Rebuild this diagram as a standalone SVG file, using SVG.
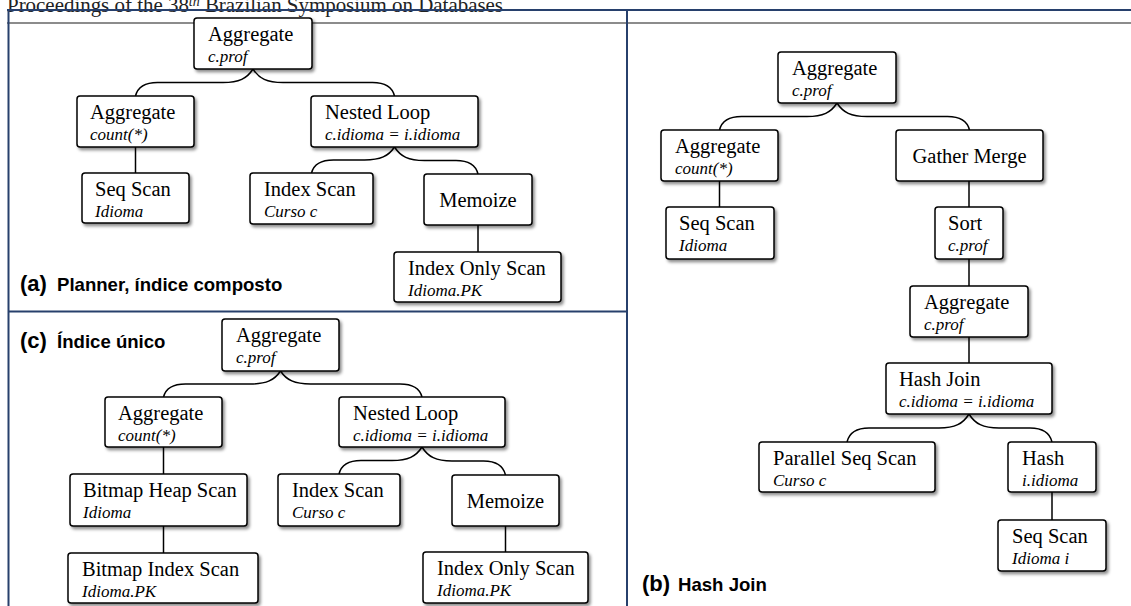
<svg xmlns="http://www.w3.org/2000/svg" width="1131" height="606" viewBox="0 0 1131 606">
<style>
.box{fill:#fff;stroke:#000;stroke-width:1.5;filter:url(#sh)}
.t{font-family:"Liberation Serif","Times New Roman",serif;font-size:20.5px;fill:#000}
.s{font-family:"Liberation Serif","Times New Roman",serif;font-size:17px;font-style:italic;fill:#000}
.c{text-anchor:middle}
.edge{fill:none;stroke:#000;stroke-width:1.5}
.frame{stroke:#27406c;stroke-width:2;fill:none}
.lab{font-family:"Liberation Sans",Arial,sans-serif;font-weight:bold;fill:#000}
.hdr{font-family:"Liberation Serif","Times New Roman",serif;font-size:21px;fill:#222}
</style>
<defs>
<filter id="sh" x="-10%" y="-10%" width="130%" height="140%">
<feDropShadow dx="2" dy="2.5" stdDeviation="1.6" flood-color="#000" flood-opacity="0.45"/>
</filter>
</defs>
<rect width="1131" height="606" fill="#fff"/>
<g id="header">
<text class="hdr" x="7" y="12" textLength="496" lengthAdjust="spacingAndGlyphs">Proceedings of the 38<tspan font-size="14" font-style="italic" dy="-6">th</tspan><tspan dy="6"> Brazilian Symposium on Databases</tspan></text>
</g>
<g id="frames">
<line x1="7" y1="23" x2="1131" y2="23" stroke="#666" stroke-width="1.5"/>
<line class="frame" x1="7" y1="10" x2="1131" y2="10"/>
<line class="frame" x1="8.5" y1="10" x2="8.5" y2="606"/>
<line class="frame" x1="627" y1="10" x2="627" y2="606"/>
<line class="frame" x1="8.5" y1="311.5" x2="627" y2="311.5"/>
</g>
<g id="connectors">
<path class="edge" d="M253,69 C247,78.5 239,82.5 223,82.5 L157.5,82.5 C143.5,82.5 137.5,87.9 135.5,96"/>
<path class="edge" d="M253,69 C259,78.5 267,82.5 283,82.5 L372.5,82.5 C386.5,82.5 392.5,87.9 394.5,96"/>
<path class="edge" d="M394.5,147 C388.5,156.1 380.5,160 364.5,160 L333.5,160 C319.5,160 313.5,165.2 311.5,173"/>
<path class="edge" d="M394.5,147 C400.5,156.5 408.5,160.5 424.5,160.5 L456,160.5 C470,160.5 476,165.9 478,174"/>
<line class="edge" x1="135.5" y1="147" x2="135.5" y2="173"/>
<line class="edge" x1="478" y1="225" x2="478" y2="252"/>
<path class="edge" d="M280.5,371 C274.5,380.1 266.5,384 250.5,384 L185.5,384 C171.5,384 165.5,389.2 163.5,397"/>
<path class="edge" d="M280.5,371 C286.5,380.1 294.5,384 310.5,384 L400,384 C414,384 420,389.2 422,397"/>
<path class="edge" d="M422,447 C416,456.5 408,460.5 392,460.5 L361,460.5 C347,460.5 341,465.9 339,474"/>
<path class="edge" d="M422,447 C428,456.8 436,461 452,461 L483.5,461 C497.5,461 503.5,466.6 505.5,475"/>
<line class="edge" x1="163.5" y1="447" x2="163.5" y2="474"/>
<line class="edge" x1="163.5" y1="526" x2="163.5" y2="553"/>
<line class="edge" x1="505.5" y1="526" x2="505.5" y2="552"/>
<path class="edge" d="M837,103 C831,112.5 823,116.5 807,116.5 L741.5,116.5 C727.5,116.5 721.5,121.9 719.5,130"/>
<path class="edge" d="M837,103 C843,112.5 851,116.5 867,116.5 L947.5,116.5 C961.5,116.5 967.5,121.9 969.5,130"/>
<path class="edge" d="M969,414 C963,423.8 955,428 939,428 L869,428 C855,428 849,433.6 847,442"/>
<path class="edge" d="M969,414 C975,423.8 983,428 999,428 L1030,428 C1044,428 1050,433.6 1052,442"/>
<line class="edge" x1="719.5" y1="181" x2="719.5" y2="207"/>
<line class="edge" x1="969" y1="181" x2="969" y2="207"/>
<line class="edge" x1="969" y1="259" x2="969" y2="286"/>
<line class="edge" x1="969" y1="337" x2="969" y2="363"/>
<line class="edge" x1="1052" y1="492" x2="1052" y2="520"/>
</g>
<g id="a1"><rect class="box" x="194" y="18" width="118" height="51" rx="3"/><text class="t" x="208" y="41">Aggregate</text><text class="s" x="208" y="62">c.prof</text></g>
<g id="a2"><rect class="box" x="77" y="96" width="117" height="51" rx="3"/><text class="t" x="90" y="119">Aggregate</text><text class="s" x="90" y="140">count(*)</text></g>
<g id="a3"><rect class="box" x="311" y="96" width="167" height="51" rx="3"/><text class="t" x="325" y="119">Nested Loop</text><text class="s" x="325" y="140">c.idioma = i.idioma</text></g>
<g id="a4"><rect class="box" x="82" y="173" width="107" height="50" rx="3"/><text class="t" x="95" y="196">Seq Scan</text><text class="s" x="95" y="217">Idioma</text></g>
<g id="a5"><rect class="box" x="250" y="173" width="123" height="51" rx="3"/><text class="t" x="264" y="196">Index Scan</text><text class="s" x="264" y="217">Curso c</text></g>
<g id="a6"><rect class="box" x="424" y="174" width="108" height="51" rx="3"/><text class="t c" x="478" y="207">Memoize</text></g>
<g id="a7"><rect class="box" x="394" y="252" width="167" height="50" rx="3"/><text class="t" x="408" y="275">Index Only Scan</text><text class="s" x="408" y="296">Idioma.PK</text></g>
<g id="c1"><rect class="box" x="222" y="319" width="117" height="52" rx="3"/><text class="t" x="236" y="342">Aggregate</text><text class="s" x="236" y="363">c.prof</text></g>
<g id="c2"><rect class="box" x="105" y="397" width="117" height="50" rx="3"/><text class="t" x="118" y="420">Aggregate</text><text class="s" x="118" y="441">count(*)</text></g>
<g id="c3"><rect class="box" x="339" y="397" width="166" height="50" rx="3"/><text class="t" x="353" y="420">Nested Loop</text><text class="s" x="353" y="441">c.idioma = i.idioma</text></g>
<g id="c4"><rect class="box" x="70" y="474" width="177" height="52" rx="3"/><text class="t" x="83" y="497">Bitmap Heap Scan</text><text class="s" x="83" y="518">Idioma</text></g>
<g id="c5"><rect class="box" x="278" y="474" width="122" height="52" rx="3"/><text class="t" x="292" y="497">Index Scan</text><text class="s" x="292" y="518">Curso c</text></g>
<g id="c6"><rect class="box" x="452" y="475" width="107" height="51" rx="3"/><text class="t c" x="505.5" y="508">Memoize</text></g>
<g id="c7"><rect class="box" x="423" y="552" width="165" height="51" rx="3"/><text class="t" x="437" y="575">Index Only Scan</text><text class="s" x="437" y="596">Idioma.PK</text></g>
<g id="c8"><rect class="box" x="68" y="553" width="190" height="50" rx="3"/><text class="t" x="82" y="576">Bitmap Index Scan</text><text class="s" x="82" y="597">Idioma.PK</text></g>
<g id="b1"><rect class="box" x="778" y="52" width="118" height="51" rx="3"/><text class="t" x="792" y="75">Aggregate</text><text class="s" x="792" y="96">c.prof</text></g>
<g id="b2"><rect class="box" x="661" y="130" width="117" height="51" rx="3"/><text class="t" x="675" y="153">Aggregate</text><text class="s" x="675" y="174">count(*)</text></g>
<g id="b3"><rect class="box" x="896" y="130" width="147" height="51" rx="3"/><text class="t c" x="969.5" y="163">Gather Merge</text></g>
<g id="b4"><rect class="box" x="666" y="207" width="108" height="52" rx="3"/><text class="t" x="679" y="230">Seq Scan</text><text class="s" x="679" y="251">Idioma</text></g>
<g id="b5"><rect class="box" x="935" y="207" width="68" height="52" rx="3"/><text class="t" x="948" y="230">Sort</text><text class="s" x="948" y="251">c.prof</text></g>
<g id="b6"><rect class="box" x="910" y="286" width="118" height="51" rx="3"/><text class="t" x="924" y="309">Aggregate</text><text class="s" x="924" y="330">c.prof</text></g>
<g id="b7"><rect class="box" x="886" y="363" width="166" height="51" rx="3"/><text class="t" x="899" y="386">Hash Join</text><text class="s" x="899" y="407">c.idioma = i.idioma</text></g>
<g id="b8"><rect class="box" x="759" y="442" width="176" height="50" rx="3"/><text class="t" x="773" y="465">Parallel Seq Scan</text><text class="s" x="773" y="486">Curso c</text></g>
<g id="b9"><rect class="box" x="1008" y="442" width="88" height="50" rx="3"/><text class="t" x="1022" y="465">Hash</text><text class="s" x="1022" y="486">i.idioma</text></g>
<g id="b10"><rect class="box" x="998" y="520" width="108" height="51" rx="3"/><text class="t" x="1012" y="543">Seq Scan</text><text class="s" x="1012" y="564">Idioma i</text></g>
<g id="labels">
<text class="lab" x="20" y="291" font-size="22">(a)</text><text class="lab" x="57" y="291" font-size="18.6">Planner, índice composto</text>
<text class="lab" x="20" y="348" font-size="22">(c)</text><text class="lab" x="57" y="348" font-size="18.6">Índice único</text>
<text class="lab" x="642" y="591" font-size="22">(b)</text><text class="lab" x="678" y="591" font-size="18.6">Hash Join</text>
</g>
</svg>
